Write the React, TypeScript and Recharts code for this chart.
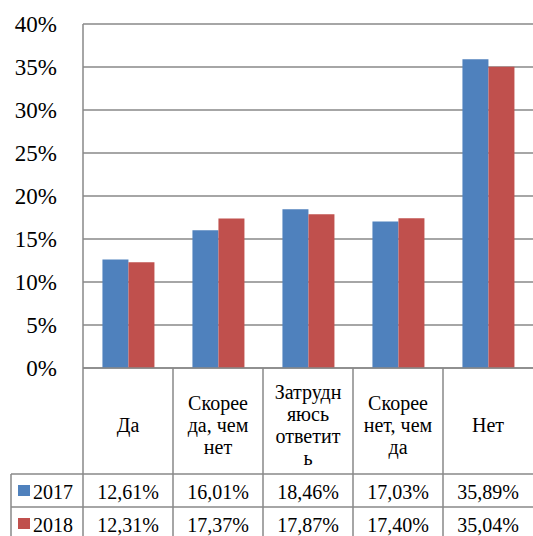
import { Bar, BarChart, CartesianGrid, XAxis, YAxis } from 'recharts'

const categories = ['Да', 'Скорее да, чем нет', 'Затрудняюсь ответить', 'Скорее нет, чем да', 'Нет']
const headerLines = [
  ['Да'],
  ['Скорее', 'да, чем', 'нет'],
  ['Затрудн', 'яюсь', 'ответит', 'ь'],
  ['Скорее', 'нет, чем', 'да'],
  ['Нет']
]
const values2017 = [12.61, 16.01, 18.46, 17.03, 35.89]
const values2018 = [12.31, 17.37, 17.87, 17.4, 35.04]
const yTicks = [0, 5, 10, 15, 20, 25, 30, 35, 40]

const COLOR_2017 = '#4F81BD'
const COLOR_2018 = '#C0504D'
const GRID = '#898989'
const FONT = 'Liberation Serif, Times New Roman, Times, Tinos, DejaVu Serif'

const WIDTH = 533
const HEIGHT = 536
const LEFT = 83
const TABLE_H = 168
const HALF_BAND = (WIDTH - LEFT) / categories.length / 2
const HEADER_H = 106
const ROW_H = 33

const data = categories.map((name, i) => ({
  name,
  v2017: values2017[i],
  v2018: values2018[i]
}))

const pct = (v: number) => `${v.toFixed(2).replace('.', ',')}%`

function YTick(props: any) {
  const { x, y, payload } = props
  return (
    <text x={x} y={y} textAnchor="end" dominantBaseline="central" fontFamily={FONT} fontSize={23} fill="#000">
      {`${payload.value}%`}
    </text>
  )
}

function TableTick(props: any) {
  const { x, y, payload } = props
  const i = payload.index as number
  const lines = headerLines[i]
  const lineH = 22
  const midY = y + 57
  const row1 = y + HEADER_H
  const row2 = row1 + ROW_H
  return (
    <g fontFamily={FONT} fontSize={20} fill="#000">
      {i === 0 && (
        <g>
          <line x1={11} y1={row1} x2={WIDTH} y2={row1} stroke={GRID} strokeWidth={1.5} />
          <line x1={11} y1={row2} x2={WIDTH} y2={row2} stroke={GRID} strokeWidth={1.5} />
          <line x1={11} y1={row1} x2={11} y2={HEIGHT} stroke={GRID} strokeWidth={1.5} />
          <line x1={x - HALF_BAND} y1={y} x2={x - HALF_BAND} y2={HEIGHT} stroke={GRID} strokeWidth={1.5} />
          <rect x={18} y={row1 + 11} width={12} height={11} fill={COLOR_2017} />
          <text x={33} y={row1 + ROW_H / 2 + 1} dominantBaseline="central">2017</text>
          <rect x={18} y={row2 + 11} width={12} height={11} fill={COLOR_2018} />
          <text x={33} y={row2 + ROW_H / 2 + 1} dominantBaseline="central">2018</text>
        </g>
      )}
      {i < categories.length - 1 && (
        <line x1={x + HALF_BAND} y1={y} x2={x + HALF_BAND} y2={HEIGHT} stroke={GRID} strokeWidth={1.5} />
      )}
      {lines.map((line, k) => (
        <text
          key={k}
          x={x}
          y={midY + (k - (lines.length - 1) / 2) * lineH}
          textAnchor="middle"
          dominantBaseline="central"
        >
          {line}
        </text>
      ))}
      <text x={x} y={row1 + ROW_H / 2 + 1} textAnchor="middle" dominantBaseline="central">
        {pct(values2017[i])}
      </text>
      <text x={x} y={row2 + ROW_H / 2 + 1} textAnchor="middle" dominantBaseline="central">
        {pct(values2018[i])}
      </text>
    </g>
  )
}

export default function App() {
  return (
    <div style={{ position: 'absolute', left: 0, top: 0, width: WIDTH, height: HEIGHT, background: '#fff' }}>
      <BarChart
        width={WIDTH}
        height={HEIGHT}
        data={data}
        margin={{ top: 24, right: 0, left: 0, bottom: 0 }}
        barCategoryGap="21.6%"
        barGap={0}
      >
        <CartesianGrid vertical={false} stroke={GRID} strokeWidth={1.5} />
        <XAxis
          dataKey="name"
          height={TABLE_H}
          interval={0}
          tickLine={false}
          tickSize={0}
          tickMargin={0}
          axisLine={{ stroke: GRID, strokeWidth: 1.5 }}
          tick={<TableTick />}
        />
        <YAxis
          width={LEFT}
          domain={[0, 40]}
          ticks={yTicks}
          interval={0}
          tickLine={false}
          tickSize={0}
          tickMargin={26}
          axisLine={{ stroke: GRID, strokeWidth: 1.5 }}
          tick={<YTick />}
        />
        <Bar dataKey="v2017" fill={COLOR_2017} isAnimationActive={false} />
        <Bar dataKey="v2018" fill={COLOR_2018} isAnimationActive={false} />
      </BarChart>
    </div>
  )
}
